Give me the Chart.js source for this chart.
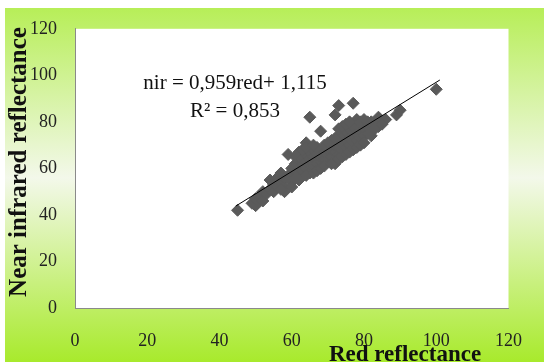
<!DOCTYPE html>
<html>
<head>
<meta charset="utf-8">
<script src="https://cdn.jsdelivr.net/npm/chart.js@4"></script>
<style>
  html, body { margin: 0; padding: 0; background: #fff; }
  #wrap { position: relative; width: 544px; height: 362px; }
</style>
</head>
<body>
<div id="wrap"><canvas id="myChart" width="544" height="362"></canvas></div>
<script>
// red reflectance (x) and near infrared reflectance (y)
const redX = [45, 49, 50, 50, 51, 52, 52, 53, 54, 54, 55, 55, 56, 56, 57, 57,
  58, 58, 59, 59, 60, 60, 60, 61, 61, 61, 62, 62, 62, 63, 63, 63, 64, 64, 64, 64,
  65, 65, 65, 65, 65, 66, 66, 66, 66, 67, 67, 67, 68, 68, 68, 68, 69, 69, 69,
  70, 70, 70, 70, 71, 71, 71, 72, 72, 72, 72, 72, 73, 73, 73, 73, 74, 74, 74,
  75, 75, 75, 76, 76, 76, 77, 77, 77, 77, 78, 78, 78, 78, 79, 79, 80, 80, 81, 81,
  82, 82, 84, 84, 86, 89, 90, 100,
  63, 64, 66, 73, 74, 75, 76, 79, 80, 81,
  64, 66, 67, 68, 69, 71, 73, 74, 75, 76, 77, 78, 79, 80, 82, 83, 85, 62, 60, 58, 57];
const nirY = [42, 45, 44, 47, 48, 46, 50, 49, 51, 55, 50, 53, 52, 56, 54, 58,
  52, 56, 57, 66, 54, 58, 60, 56, 62, 65, 58, 60, 67, 59, 62, 64, 60, 63, 66, 71,
  58, 62, 64, 67, 82, 61, 63, 65, 68, 62, 66, 69, 63, 65, 67, 76, 64, 67, 70,
  63, 66, 68, 71, 65, 68, 72, 62, 67, 70, 73, 83, 66, 69, 74, 87, 68, 71, 75,
  69, 72, 76, 70, 73, 77, 71, 74, 78, 88, 72, 75, 79, 81, 73, 76, 74, 77, 75, 78,
  76, 80, 78, 82, 81, 83, 85, 94,
  68, 69, 70, 77, 78, 79, 80, 80, 81, 80,
  57, 58, 59, 60, 61, 62, 64, 65, 66, 67, 68, 69, 70, 71, 74, 77, 79, 55, 52, 50, 51];

// linear trend nir = 0,959red + 1,115 (end points)
const trendX = [44.5, 101];
const trendY = [43.8, 98.0];

const axisTicks = [0, 20, 40, 60, 80, 100, 120];
const equationText = "nir = 0,959red+ 1,115";
const r2Text = "R\u00B2 = 0,853";
const xTitle = "Red reflectance";
const yTitle = "Near infrared reflectance";

const serif = "'Liberation Serif', 'Times New Roman', serif";

const backgroundPlugin = {
  id: "background",
  beforeDraw(chart) {
    const ctx = chart.ctx;
    const area = chart.chartArea;
    ctx.save();
    ctx.fillStyle = "#ffffff";
    ctx.fillRect(0, 0, chart.width, chart.height);
    const g = ctx.createLinearGradient(0, 8, 0, chart.height);
    g.addColorStop(0, "#b7ee58");
    g.addColorStop(0.48, "#f3f8ea");
    g.addColorStop(1, "#a8ea2c");
    ctx.fillStyle = g;
    ctx.fillRect(5, 8, chart.width - 5, chart.height - 8);
    ctx.fillStyle = "#ffffff";
    ctx.fillRect(area.left, area.top, area.right - area.left, area.bottom - area.top);
    ctx.restore();
  },
  afterDraw(chart) {
    const ctx = chart.ctx;
    ctx.save();
    ctx.fillStyle = "#111";
    ctx.textAlign = "center";
    ctx.textBaseline = "middle";
    ctx.font = "21px " + serif;
    ctx.fillText(equationText, 235, 83);
    ctx.fillText(r2Text, 235, 111);

    ctx.font = "bold 23px " + serif;
    ctx.fillText(xTitle, 405, 355);
    ctx.font = "bold 25px " + serif;
    ctx.translate(20, 162);
    ctx.rotate(-Math.PI / 2);
    ctx.fillText(yTitle, 0, 0);
    ctx.restore();
  }
};

const points = redX.map((x, i) => ({ x: x, y: nirY[i] }));
const trend = trendX.map((x, i) => ({ x: x, y: trendY[i] }));

const tickFont = { family: serif, size: 18 };

const config = {
  type: "scatter",
  data: {
    datasets: [
      {
        type: "line",
        label: "Linear",
        data: trend,
        borderColor: "#000",
        borderWidth: 1,
        pointRadius: 0,
        fill: false
      },
      {
        label: "nir",
        data: points,
        pointStyle: "rectRot",
        pointRadius: 6,
        backgroundColor: "#5a5a5a",
        borderColor: "#5a5a5a",
        borderWidth: 1
      }
    ]
  },
  options: {
    responsive: false,
    animation: false,
    layout: { padding: { top: 27, right: 19, left: 0, bottom: 0 } },
    plugins: {
      legend: { display: false },
      tooltip: { enabled: false }
    },
    scales: {
      x: {
        type: "linear",
        min: 0,
        max: 120,
        afterBuildTicks(scale) {
          scale.ticks = axisTicks.map(v => ({ value: v }));
        },
        afterFit(scale) { scale.height = 54; },
        grid: { display: false, drawTicks: false },
        border: { display: true, color: "#8a8a8a", width: 1 },
        ticks: { font: tickFont, color: "#222", padding: 22, maxRotation: 0 }
      },
      y: {
        type: "linear",
        min: 0,
        max: 120,
        afterBuildTicks(scale) {
          scale.ticks = axisTicks.map(v => ({ value: v }));
        },
        afterFit(scale) { scale.width = 75; },
        grid: { display: false, drawTicks: false },
        border: { display: true, color: "#8a8a8a", width: 1 },
        ticks: { font: tickFont, color: "#222", padding: 18 }
      }
    }
  },
  plugins: [backgroundPlugin]
};

const myChart = new Chart(document.getElementById("myChart"), config);
</script>
</body>
</html>
